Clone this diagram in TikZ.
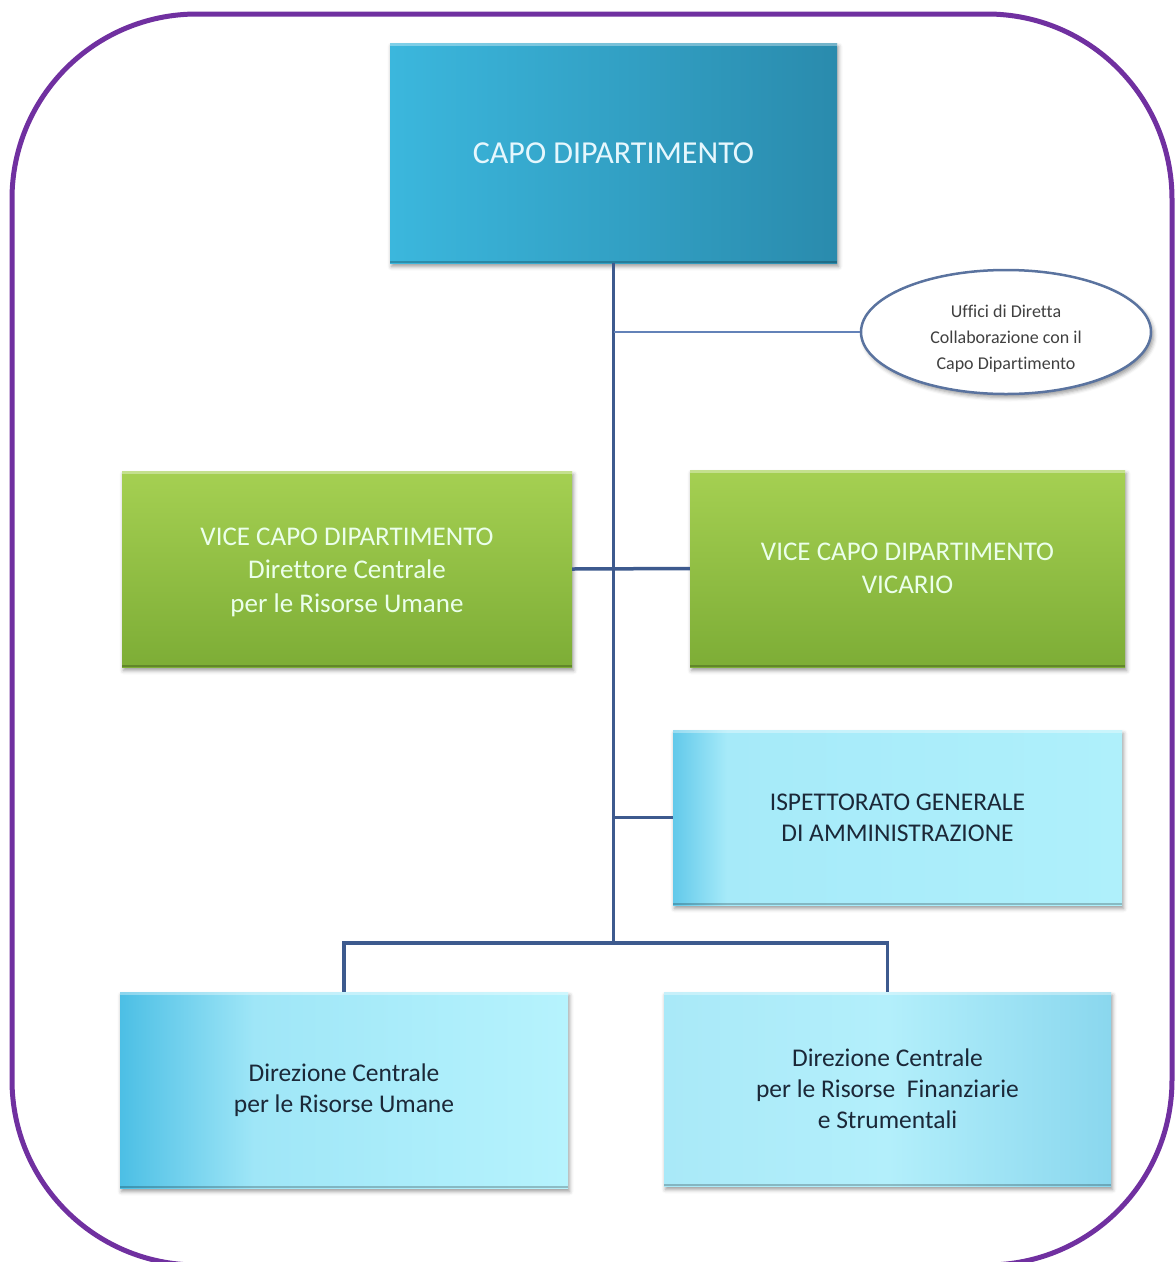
\documentclass[tikz,border=0pt]{standalone}
\usepackage{fontspec}
\setmainfont{Carlito}[Ligatures=CommonOff]
\usetikzlibrary{shapes.geometric,shadows.blur}

% palette
\definecolor{frame}{HTML}{7030A0}
\definecolor{link}{HTML}{3D5A8E}
\definecolor{linklight}{HTML}{6382B8}
\definecolor{darktext}{HTML}{1B2838}
\definecolor{capoL}{HTML}{3BB7DD}
\definecolor{capoR}{HTML}{2A8BAD}
\definecolor{greenT}{HTML}{A5D052}
\definecolor{greenB}{HTML}{7DAD36}
\definecolor{ruA}{HTML}{4CBFE5}
\definecolor{ruB}{HTML}{9FE6F7}
\definecolor{ruC}{HTML}{B6F3FD}
\definecolor{rfA}{HTML}{A9E9F8}
\definecolor{rfB}{HTML}{B3EFFB}
\definecolor{rfC}{HTML}{8AD7EE}
\definecolor{isA}{HTML}{62C9EA}
\definecolor{isB}{HTML}{A6EAF9}
\definecolor{isC}{HTML}{AFF0FB}

% horizontal shadings for the light cyan boxes (path spans 25bp..75bp)
\pgfdeclarehorizontalshading{shadeRU}{100bp}{color(0bp)=(ruA); color(25bp)=(ruA); color(40bp)=(ruB); color(75bp)=(ruC); color(100bp)=(ruC)}
\pgfdeclarehorizontalshading{shadeRF}{100bp}{color(0bp)=(rfA); color(25bp)=(rfA); color(50bp)=(rfB); color(75bp)=(rfC); color(100bp)=(rfC)}
\pgfdeclarehorizontalshading{shadeIS}{100bp}{color(0bp)=(isA); color(25bp)=(isA); color(31bp)=(isB); color(75bp)=(isC); color(100bp)=(isC)}

% shifts a block of centred lines down without changing its box
\newcommand{\lowerlines}[2]{\raisebox{-#1}[\height][\depth]{\begin{tabular}{@{}c@{}}#2\end{tabular}}}

\tikzset{
  unitbox/.style={rectangle, inner sep=0pt, align=center,
    blur shadow={shadow xshift=1.5pt, shadow yshift=-3.5pt, shadow blur radius=4pt, shadow opacity=40},
    path picture={
      \fill[white, opacity=.35] (path picture bounding box.north west) rectangle ([yshift=-3pt]path picture bounding box.north east);
      \fill[black, opacity=.22] ([yshift=2.5pt]path picture bounding box.south west) rectangle (path picture bounding box.south east);
    }},
  capobox/.style={unitbox, left color=capoL, right color=capoR, text=white!90!cyan,
    font=\fontsize{32}{38}\selectfont},
  vicebox/.style={unitbox, top color=greenT, bottom color=greenB, text=white!92!green,
    font=\fontsize{27}{33.5}\selectfont},
  officebox/.style={unitbox, text=darktext, font=\fontsize{25.5}{31}\selectfont},
  staffoval/.style={ellipse, draw=link!85!white, line width=2.5pt, fill=white,
    inner sep=0pt, align=center, text=black!75,
    font=\fontsize{18}{26}\selectfont,
    blur shadow={shadow xshift=2.5pt, shadow yshift=-3.5pt, shadow blur radius=4pt, shadow opacity=40}},
  trunk/.style={draw=link, line width=3.5pt, line join=miter},
  thinlink/.style={draw=linklight, line width=1.3pt},
}

\begin{document}
\begin{tikzpicture}[x=1pt, y=-1pt]
\useasboundingbox (0,0) rectangle (1175,1262);

% outer rounded frame
\draw[frame, line width=5pt, rounded corners=185pt] (12,14) rectangle (1172,1265);

% department head and staff offices
\node[capobox, minimum width=447pt, minimum height=220pt] (capo) at (613.5,153) {CAPO DIPARTIMENTO};
\node[staffoval, minimum width=290pt, minimum height=124pt] (uffici) at (1006,332)
  {\lowerlines{6pt}{Uffici di Diretta\\Collaborazione con il\\Capo Dipartimento}};

% deputy heads
\node[vicebox, minimum width=450pt, minimum height=196pt] (viceL) at (347,569)
  {\lowerlines{3pt}{VICE CAPO DIPARTIMENTO\\Direttore Centrale\\per le Risorse Umane}};
\node[vicebox, minimum width=435pt, minimum height=197pt] (viceR) at (907.5,568.5)
  {VICE CAPO DIPARTIMENTO\\VICARIO};

% inspectorate
\node[officebox, shading=shadeIS, minimum width=449pt, minimum height=175pt] (isp) at (897.5,817.5)
  {ISPETTORATO GENERALE\\DI AMMINISTRAZIONE};

% central directorates
\node[officebox, shading=shadeRU, minimum width=448pt, minimum height=196pt] (dirRU) at (344,1090)
  {Direzione Centrale\\per le Risorse Umane};
\node[officebox, shading=shadeRF, minimum width=447pt, minimum height=194pt] (dirRF) at (887.5,1089)
  {Direzione Centrale\\per le Risorse~ Finanziarie\\e Strumentali};

\coordinate (fork) at (613.5,943);

% connectors
\draw[trunk] (capo.south) -- (fork);
\draw[thinlink] (uffici.west -| capo.south) -- (uffici.west);
\draw[trunk] (viceL.east) -- (viceR.west);
\draw[trunk] (isp.west -| capo.south) -- (isp.west);
\draw[trunk] (dirRU.north) -- (dirRU.north |- fork) -- (dirRF.north |- fork) -- (dirRF.north);
\end{tikzpicture}
\end{document}
